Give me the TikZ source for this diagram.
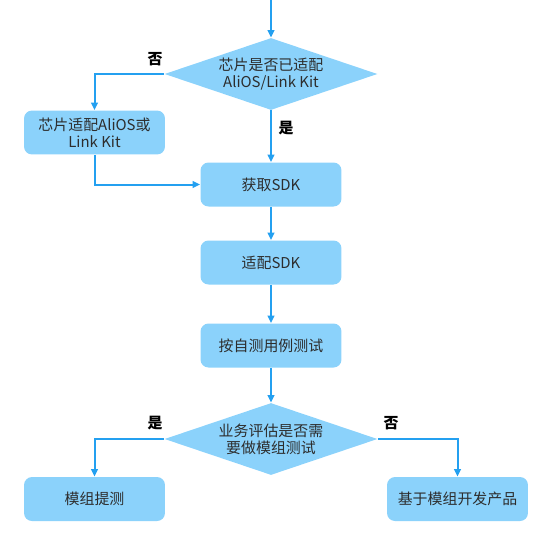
\documentclass[tikz,border=0pt]{standalone}
\usepackage{fontspec}
\setmainfont{Noto Sans CJK SC}
\usetikzlibrary{shapes.geometric,arrows.meta}
\definecolor{boxfill}{RGB}{139,210,251}
\definecolor{flowline}{RGB}{36,160,240}
\definecolor{boxtext}{RGB}{45,45,45}
\tikzset{
	stepbox/.style={rectangle, rounded corners=0.16cm, fill=boxfill, draw=none,
		minimum width=2.82cm, minimum height=0.88cm, inner sep=0pt, align=center,
		text=boxtext, font=\fontsize{8.5pt}{9.7pt}\selectfont},
	choice/.style={diamond, fill=boxfill, draw=none, shape aspect=2.96,
		minimum width=4.26cm, minimum height=1.44cm, inner sep=0pt, align=center,
		text=boxtext, font=\fontsize{8.5pt}{9.7pt}\selectfont},
	flow/.style={draw=flowline, line width=0.04cm, -{Triangle[length=0.15cm,width=0.13cm]}},
	answer/.style={font=\fontsize{8.5pt}{9.7pt}\selectfont\bfseries, text=black, inner sep=0pt}
}

\begin{document}
\begin{tikzpicture}[x=0.02cm, y=-0.02cm]
		%%%%% START %%%%%
		\useasboundingbox (0, 0) rectangle (553, 551);
		
		\coordinate (start) at (271, 0);
		\node[choice] (chipok) at (271, 74) {芯片是否已适配\\AliOS/Link Kit};
		\node[stepbox] (port) at (94.5, 132.5) {芯片适配AliOS或\\Link Kit};
		
		\node[stepbox] (getsdk) at (271, 184.5) {获取SDK};
		\node[stepbox] (fitsdk) at (271, 262.5) {适配SDK};
		\node[stepbox] (selftest) at (271, 345.5) {按自测用例测试};
		
		\node[choice] (needtest) at (271, 439) {业务评估是否需\\要做模组测试};
		\node[stepbox] (modtest) at (94.5, 499) {模组提测};
		\node[stepbox] (product) at (457.5, 499) {基于模组开发产品};
		
		\node[answer] (no1) at (155, 59) {否};
		\node[answer] (yes1) at (286, 128) {是};
		\node[answer] (yes2) at (155, 423) {是};
		\node[answer] (no2) at (391, 423) {否};
		
		\draw[flow] (start) -- (chipok.north);
		\draw[flow] (chipok.west) -| (port.north);
		\draw[flow] (chipok.south) -- (getsdk.north);
		\draw[flow] (port.south) |- (getsdk.west);
		\draw[flow] (getsdk.south) -- (fitsdk.north);
		\draw[flow] (fitsdk.south) -- (selftest.north);
		\draw[flow] (selftest.south) -- (needtest.north);
		\draw[flow] (needtest.west) -| (modtest.north);
		\draw[flow] (needtest.east) -| (product.north);
		
		%%%%% END %%%%%
\end{tikzpicture}
\end{document}
